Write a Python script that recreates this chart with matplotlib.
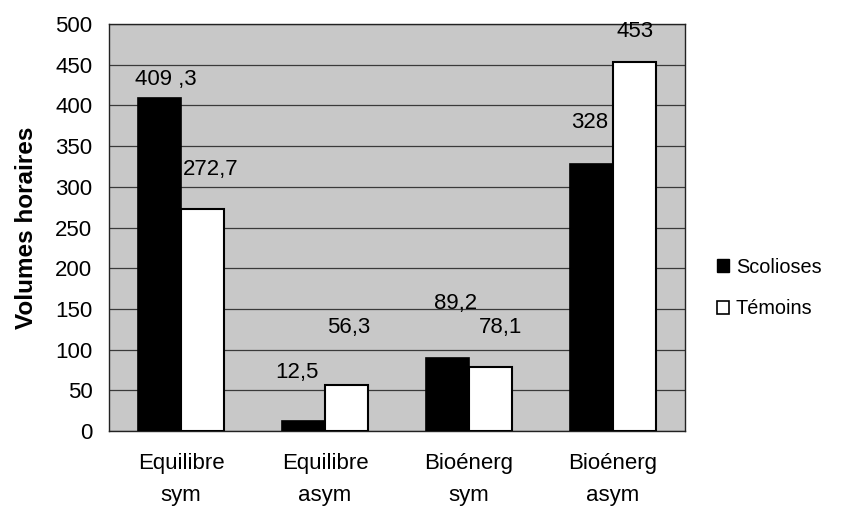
import matplotlib
matplotlib.use("Agg")
import matplotlib.pyplot as plt
from matplotlib import font_manager
from matplotlib.patches import Patch
import numpy as np

categories = ["Equilibre\nsym", "Equilibre\nasym", "Bioénerg\nsym", "Bioénerg\nasym"]
scolioses = [409.3, 12.5, 89.2, 328]
temoins = [272.7, 56.3, 78.1, 453]
scolioses_labels = ["409 ,3", "12,5", "89,2", "328"]
temoins_labels = ["272,7", "56,3", "78,1", "453"]
yticks = [0, 50, 100, 150, 200, 250, 300, 350, 400, 450, 500]

# label offsets (pixels): horizontal from bar centre, vertical from bar top to baseline
scol_dx = [6, -6, 8, -2]
scol_dy = [13, 43, 49, 36]
tem_dx = [8, 2, 10, 0]
tem_dy = [34, 52, 34, 25]

names = {f.name for f in font_manager.fontManager.ttflist}
base = "Liberation Sans" if "Liberation Sans" in names else "DejaVu Sans"
narrow = "Liberation Sans Narrow" if "Liberation Sans Narrow" in names else base
plt.rcParams['font.family'] = [base, 'DejaVu Sans']

fig = plt.figure(figsize=(8.46, 5.09), dpi=100)
ax = fig.add_axes([109/846, 1-431/509, 576/846, (431-24)/509])
ax.set_facecolor('#c8c8c8')

x = np.arange(len(categories))
w = 0.30
ax.bar(x - w/2, scolioses, w, color='black', edgecolor='black', linewidth=1.2, zorder=3)
ax.bar(x + w/2, temoins, w, color='white', edgecolor='black', linewidth=1.5, zorder=3)

ax.set_xlim(-0.5, 3.5)
ax.set_ylim(0, 500)
ax.set_yticks(yticks)
ax.set_yticklabels([str(t) for t in yticks], fontsize=16)
ax.set_xticks(x)
ax.set_xticklabels(categories, fontsize=16, linespacing=1.65)
ax.tick_params(axis='y', length=0, pad=12)
ax.tick_params(axis='x', length=0, pad=16)
ax.yaxis.grid(True, color='#3a3a3a', linewidth=0.9, zorder=1)
ax.set_axisbelow(True)
for s in ax.spines.values():
    s.set_color('#222222')
    s.set_linewidth(1.0)

ax.set_ylabel("Volumes horaires", fontsize=17.5, fontweight='bold', labelpad=12)

px = 72/100
for i in range(len(categories)):
    ax.annotate(scolioses_labels[i], (x[i] - w/2, scolioses[i]),
                xytext=(scol_dx[i]*px, scol_dy[i]*px), textcoords='offset points',
                ha='center', va='baseline', fontsize=16, family=narrow, zorder=4)
    ax.annotate(temoins_labels[i], (x[i] + w/2, temoins[i]),
                xytext=(tem_dx[i]*px, tem_dy[i]*px), textcoords='offset points',
                ha='center', va='baseline', fontsize=16, family=narrow, zorder=4)

handles = [Patch(facecolor='black', edgecolor='black'),
           Patch(facecolor='white', edgecolor='black', linewidth=1.2)]
fig.legend(handles, ["Scolioses", "Témoins"], loc='center left',
           bbox_to_anchor=(699/846, 1-288/509), frameon=False, fontsize=14.3,
           handlelength=0.6, handleheight=0.6, handletextpad=0.35, labelspacing=1.15)

fig.savefig("out.png", dpi=100)
